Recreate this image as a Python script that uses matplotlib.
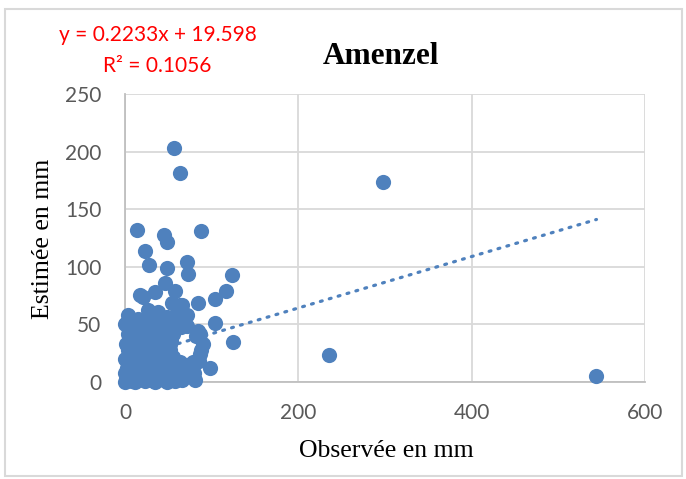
import matplotlib
matplotlib.use("Agg")
import matplotlib.pyplot as plt
import numpy as np
from matplotlib.patches import Rectangle

# ---- data ----
observed = [544, 298, 235, 56.5, 63, 14, 45, 49, 88, 23.5, 27.5, 48, 71, 73,
            123.5, 116.5, 104, 84, 103.5, 124.5, 98, 81, 58, 46, 35, 21, 17,
            65.5, 54, 71, 58, 38.5, 4, 0, 27, 63.5, 34.5, 11.5, 65.5,
            52, 58, 72, 84, 90, 87, 78, 64, 55,
            0, 1, 2, 0, 1, 3, 5, 6, 7, 8, 9, 10, 12, 13, 14, 16, 17, 18, 20, 21,
            22, 24, 25, 26, 28, 29, 30, 31, 33, 34, 36, 37, 39, 40, 42, 43, 45,
            46, 47, 49, 51, 52, 54, 55, 57, 58, 52, 50, 62, 64, 66, 70, 74, 76,
            5, 9, 15, 24, 30, 44, 48, 3, 11, 19, 27, 32, 38, 41, 53, 59, 12,
            35, 48, 66, 20, 50, 15.5, 34.5, 56, 38.5, 23, 27, 4, 4, 0, 19,
            40, 33, 18, 26, 45, 8, 14, 40, 2, 30, 36, 43, 24, 10,
            5, 10, 15, 20, 25, 30, 35, 40, 45, 50, 55, 60, 68, 72, 80, 85, 88, 82, 65, 87]
estimated = [5.5, 174, 23.5, 203, 181, 132, 128, 121.5, 131, 114, 101.5, 99, 104, 94,
             92.5, 79, 72, 69, 51.5, 35, 12, 1.5, 79, 86, 78.5, 74, 75.5,
             67, 68.5, 58, 57, 61, 58, 50, 62.5, 67, 51, 48, 51,
             33, 46, 49, 44, 33, 24, 17, 17, 22,
             0, 3, 12, 20, 33, 42, 5, 24, 36, 1, 14, 30, 8, 44, 18, 3, 27, 39, 10, 21,
             47, 2, 33, 15, 42, 6, 24, 35, 12, 1, 45, 20, 30, 8, 16, 38, 2,
             26, 47, 11, 31, 4, 14, 42, 10, 1, 28, 40, 7, 10, 3, 10, 12, 5,
             48, 52, 55, 53, 48, 50, 56, 9, 25, 5, 28, 18, 6, 42, 36, 14, 0,
             0, 0, 2, 36, 19, 22, 25, 7.5, 3.5, 1, 10.5, 28, 16.5, 7.5, 36.5,
             47, 40, 30, 38, 33, 44, 10, 25, 52, 55, 54, 45, 43, 40,
             30, 20, 40, 15, 45, 5, 30, 15, 42, 25, 5, 10, 5, 15, 8, 18, 28, 40, 48, 42]

slope, intercept = 0.2233, 19.598
equation = "y = 0.2233x + 19.598"
r2_text = "R\u00b2 = 0.1056"
title = "Amenzel"
xlabel = "Observ\u00e9e en mm"
ylabel = "Estim\u00e9e en mm"
xticks = [0, 200, 400, 600]
yticks = [0, 50, 100, 150, 200, 250]

W, H = 686, 479
fig = plt.figure(figsize=(W / 100, H / 100), dpi=100)
ax = fig.add_axes([125 / W, 1 - 382 / H, (645 - 125) / W, (382 - 94) / H])

blue = "#4F81BD"
ax.scatter(observed, estimated, s=120, color=blue, zorder=4, linewidths=0,
           clip_on=False)
xs = np.array([min(observed), max(observed)])
ax.plot(xs, slope * xs + intercept, color=blue, lw=2.3,
        linestyle=(0, (0.6, 2.3)), dash_capstyle="round", zorder=2)

ax.set_xlim(0, 600)
ax.set_ylim(0, 250)
ax.set_xticks(xticks)
ax.set_yticks(yticks)
ax.grid(True, color="#D9D9D9", lw=1.3, zorder=0)
ax.set_axisbelow(True)
for s in ["top", "right"]:
    ax.spines[s].set_visible(False)
for s in ["left", "bottom"]:
    ax.spines[s].set_color("#BFBFBF")
    ax.spines[s].set_linewidth(1.3)
    ax.spines[s].set_zorder(1)
ax.tick_params(length=0, labelsize=15, labelcolor="#595959")
ax.tick_params(axis="y", pad=17)
ax.tick_params(axis="x", pad=15)
for lab in ax.get_xticklabels() + ax.get_yticklabels():
    lab.set_fontfamily("Lato")

fig.text(381 / W, 1 - 57 / H, title, ha="center", va="center",
         fontfamily="Liberation Serif", fontweight="bold", fontsize=22.5)
fig.text(386 / W, 1 - 451 / H, xlabel, ha="center", va="center",
         fontfamily="Liberation Serif", fontsize=18.5)
fig.text(43 / W, 1 - 238.5 / H, ylabel, ha="center", va="center", rotation=90,
         fontfamily="Liberation Serif", fontsize=18.5)
fig.text(158 / W, 1 - 35 / H, equation, ha="center", va="center",
         fontfamily="Lato", fontsize=15, color="#FF0000")
fig.text(157 / W, 1 - 66 / H, r2_text, ha="center", va="center",
         fontfamily="Lato", fontsize=15, color="#FF0000")

fig.patches.append(Rectangle((5 / W, 1 - 476 / H), 677 / W, 467 / H,
                             transform=fig.transFigure, fill=False,
                             edgecolor="#D9D9D9", lw=1.5))

fig.savefig("out.png", dpi=100)
